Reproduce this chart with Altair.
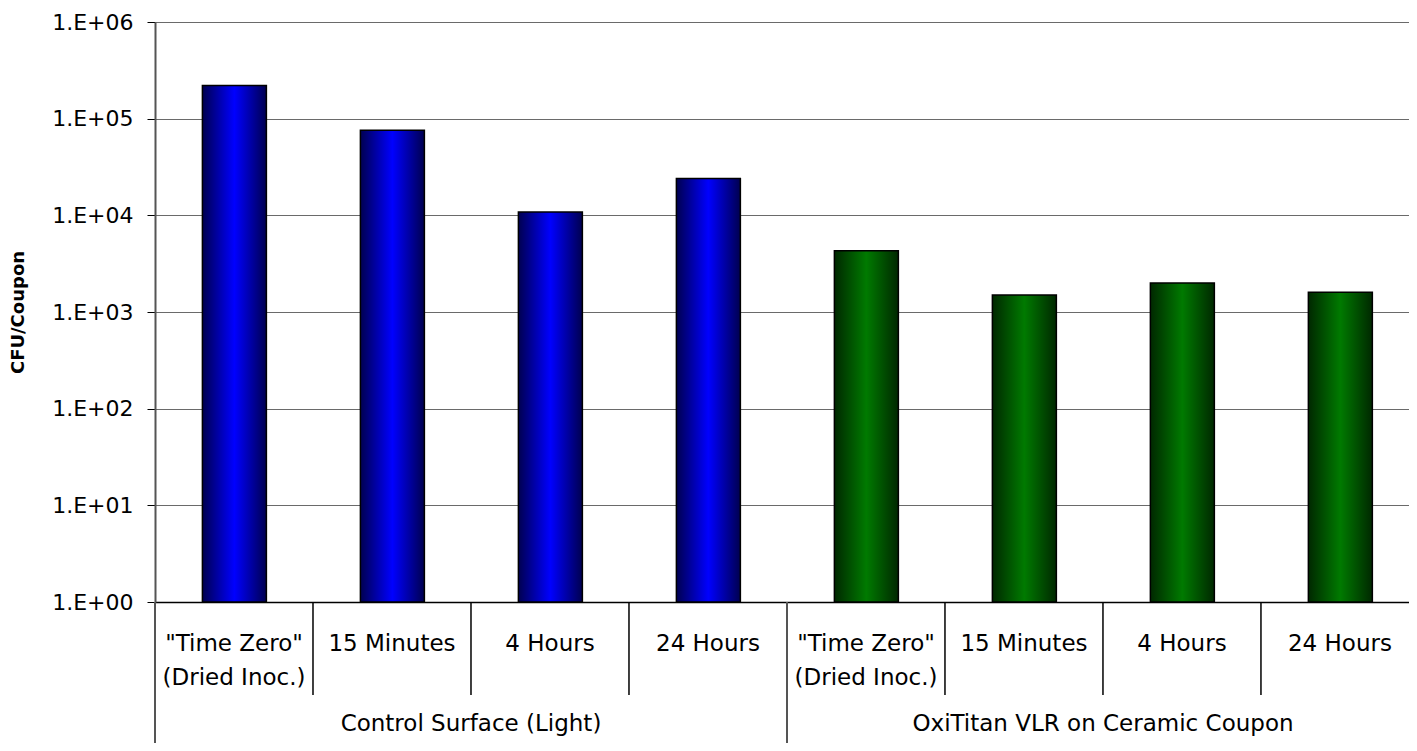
import altair as alt
import pandas as pd

groups = ["Control Surface (Light)", "OxiTitan VLR on Ceramic Coupon"]
times = ['"Time Zero"\n(Dried Inoc.)', "15 Minutes", "4 Hours", "24 Hours"]
control_values = [2.2e5, 7.6e4, 1.08e4, 2.4e4]
oxititan_values = [4.3e3, 1.5e3, 2.0e3, 1.6e3]
y_ticks = [1, 10, 100, 1000, 10000, 100000, 1000000]

rows = []
for g, vals in zip(groups, [control_values, oxititan_values]):
    for t, v in zip(times, vals):
        rows.append({"group": g, "time": t, "value": v})
df = pd.DataFrame(rows)
df["idx"] = range(len(df))

FONT = "DejaVu Sans"

base = alt.Chart(df).transform_calculate(
    lo="datum.idx + 0.3", hi="datum.idx + 0.705", mid="datum.idx + 0.5"
)

xscale = alt.Scale(domain=[0, 7.937], nice=False, zero=False)
xaxis = alt.Axis(labels=False, ticks=False, grid=False, title=None,
                 domain=True, domainColor="black", domainWidth=1.5)
yscale = alt.Scale(type="log", domain=[1, 1000000], nice=False)
yaxis = alt.Axis(values=y_ticks, labelExpr="'1.E+0' + round(log(datum.value)/LN10)",
                 grid=True, gridColor="#6a6a6a", gridWidth=1.2,
                 domainColor="#555555", domainWidth=2, tickColor="black",
                 tickSize=8, labelPadding=14, labelFontSize=22, labelFont=FONT,
                 labelColor="black", title="CFU/Coupon", titleFont=FONT,
                 titleFontSize=18, titleFontWeight="bold", titleColor="black",
                 titleAngle=270, titleX=-137, titleY=290, titleAlign="center",
                 titleBaseline="middle")


def grad(edge, center):
    return alt.Gradient(
        gradient="linear", x1=0, x2=1, y1=0, y2=0,
        stops=[alt.GradientStop(color=edge, offset=0),
               alt.GradientStop(color=center, offset=0.5),
               alt.GradientStop(color=edge, offset=1)])


def bars(group, fill):
    return base.transform_filter(alt.datum.group == group).mark_bar(
        color=fill, stroke="black", strokeWidth=1.5
    ).encode(
        x=alt.X("lo:Q", scale=xscale, axis=xaxis),
        x2="hi:Q",
        y=alt.Y("value:Q", scale=yscale, axis=yaxis),
        y2=alt.datum(1),
    )


bars_control = bars(groups[0], grad("#000050", "#0000ff"))
bars_oxi = bars(groups[1], grad("#002800", "#007a00"))

time_labels = base.mark_text(
    font=FONT, fontSize=23, baseline="top", align="center", lineBreak="\n",
    lineHeight=34, color="black"
).encode(x="mid:Q", y=alt.value(611), text="time:N")

group_labels = base.transform_aggregate(
    mid="mean(mid)", groupby=["group"]
).mark_text(font=FONT, fontSize=23, baseline="middle", align="center",
            color="black").encode(x="mid:Q", y=alt.value(702), text="group:N")

inner_rules = base.transform_filter("datum.idx % 4 != 0").mark_rule(
    color="black", strokeWidth=1.5
).encode(x="idx:Q", y=alt.value(580), y2=alt.value(673))

group_rules = base.transform_filter("datum.idx % 4 == 0").mark_rule(
    color="#555555", strokeWidth=2
).encode(x="idx:Q", y=alt.value(580), y2=alt.value(740))

chart = alt.layer(
    bars_control, bars_oxi, inner_rules, group_rules, time_labels, group_labels
).properties(
    width=1254, height=580,
    autosize=alt.AutoSizeParams(type="none"),
    padding={"left": 147, "top": 14, "right": 0, "bottom": 141},
).configure_view(stroke=None).configure(background="white")

chart.save("out.html", embed_options={"renderer": "svg", "actions": False})
